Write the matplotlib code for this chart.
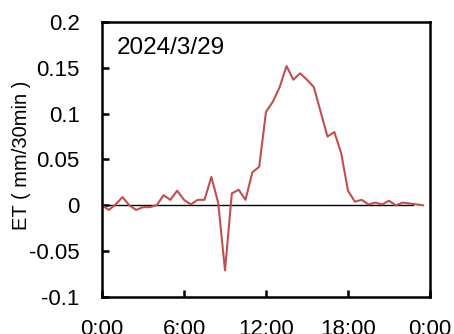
import matplotlib
matplotlib.use("Agg")
import matplotlib.pyplot as plt
import numpy as np

plt.rcParams['font.family'] = ['Liberation Sans', 'DejaVu Sans']

hours = [i * 0.5 for i in range(48)]
et = [0.0, -0.005, 0.001, 0.009, 0.0, -0.005, -0.002, -0.002, 0.0, 0.011,
      0.006, 0.016, 0.006, 0.001, 0.006, 0.006, 0.031, 0.003, -0.071, 0.013,
      0.017, 0.006, 0.036, 0.042, 0.102, 0.113, 0.129, 0.152, 0.137, 0.144,
      0.137, 0.129, 0.102, 0.075, 0.080, 0.057, 0.016, 0.004, 0.006, 0.001,
      0.003, 0.001, 0.005, 0.0, 0.003, 0.002, 0.001, 0.0]
zero_x = [0, 22.75]
zero_y = [0, 0]
xticks = [0, 6, 12, 18, 24]
xlabels = ['0:00', '6:00', '12:00', '18:00', '0:00']
yticks = [-0.1, -0.05, 0, 0.05, 0.1, 0.15, 0.2]
ylabels = ['-0.1', '-0.05', '0', '0.05', '0.1', '0.15', '0.2']
date_label = '2024/3/29'

fig = plt.figure(figsize=(4.54, 3.34), dpi=100)
ax = fig.add_axes([102/454, 1 - 297/334, (430-102)/454, (297-22)/334])
ax.plot(zero_x, zero_y, color='black', lw=1.0)
ax.plot(hours, et, color='#C0504D', lw=1.5)
ax.set_xlim(0, 24)
ax.set_ylim(-0.1, 0.2)
ax.set_xticks(xticks)
ax.set_xticklabels(xlabels)
ax.set_yticks(yticks)
ax.set_yticklabels(ylabels)
ax.tick_params(direction='in', length=5, width=1.8)
ax.tick_params(axis='y', pad=16, labelsize=16)
ax.tick_params(axis='x', pad=16, labelsize=16)
for s in ax.spines.values():
    s.set_linewidth(1.8)
ax.set_ylabel('ET ( mm/30min )', fontsize=14.5, va='center')
ax.yaxis.set_label_coords(-0.244, 0.516)
ax.text(0.045, 0.905, date_label, transform=ax.transAxes, fontsize=17.5,
        ha='left', va='center')
fig.savefig('out.png', dpi=100)
